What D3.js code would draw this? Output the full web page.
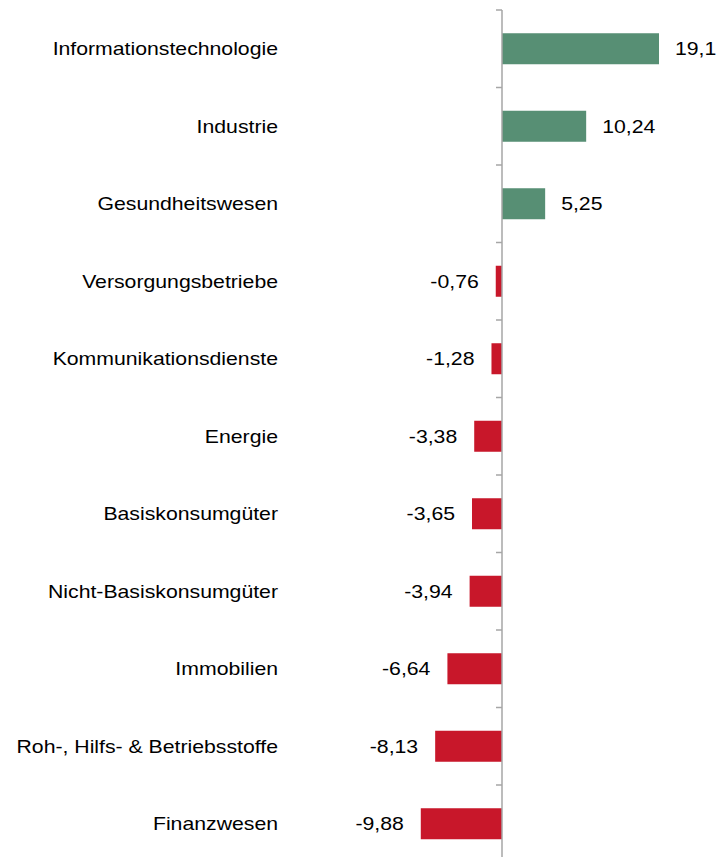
<!DOCTYPE html>
<html>
<head>
<meta charset="utf-8">
<script src="https://cdn.jsdelivr.net/npm/d3@7"></script>
<style>
  html, body { margin: 0; padding: 0; background: #fff; }
  svg text { font-family: "Liberation Sans", Arial, sans-serif; fill: #000; }
</style>
</head>
<body>
<svg id="chart" width="718" height="857"></svg>
<script>
// Sectors and their performance values (%)
const sectors = [
  "Informationstechnologie",
  "Industrie",
  "Gesundheitswesen",
  "Versorgungsbetriebe",
  "Kommunikationsdienste",
  "Energie",
  "Basiskonsumgüter",
  "Nicht-Basiskonsumgüter",
  "Immobilien",
  "Roh-, Hilfs- & Betriebsstoffe",
  "Finanzwesen"
];
const values = [19.1, 10.24, 5.25, -0.76, -1.28, -3.38, -3.65, -3.94, -6.64, -8.13, -9.88];
const valueLabels = ["19,1", "10,24", "5,25", "-0,76", "-1,28", "-3,38", "-3,65", "-3,94", "-6,64", "-8,13", "-9,88"];

const svg = d3.select("#chart");
const width = 718, height = 857;
const textStretch = 1.18; // wide text rendering

const zeroX = 502;
const pxPerUnit = 8.22;
const x = d3.scaleLinear()
  .domain([-10, 20])
  .range([zeroX - 10 * pxPerUnit, zeroX + 20 * pxPerUnit]);

const y = d3.scaleBand()
  .domain(sectors)
  .range([10, 10 + 11 * 77.5])
  .paddingInner(0.6)
  .paddingOuter(0.3);

const data = sectors.map((s, i) => ({ sector: s, value: values[i], label: valueLabels[i] }));

// Bars
svg.append("g")
  .selectAll("rect")
  .data(data)
  .join("rect")
  .attr("x", d => Math.min(x(0), x(d.value)))
  .attr("width", d => Math.abs(x(d.value) - x(0)))
  .attr("y", d => y(d.sector))
  .attr("height", y.bandwidth())
  .attr("fill", d => d.value >= 0 ? "#578f74" : "#c8172a");

// Category axis at zero, with ticks between categories
const axisG = svg.append("g");
axisG.append("line")
  .attr("x1", x(0)).attr("x2", x(0))
  .attr("y1", 10).attr("y2", height)
  .attr("stroke", "#a6a6a6").attr("stroke-width", 1.5);
const step = y.step();
const boundaries = d3.range(sectors.length + 1).map(i => 10 + i * step);
axisG.selectAll("line.tick")
  .data(boundaries)
  .join("line")
  .attr("class", "tick")
  .attr("x1", x(0) - 6).attr("x2", x(0))
  .attr("y1", d => d).attr("y2", d => d)
  .attr("stroke", "#a6a6a6").attr("stroke-width", 1.5);

// Category labels
svg.append("g")
  .selectAll("text")
  .data(data)
  .join("text")
  .attr("transform", d => `translate(278,${y(d.sector) + y.bandwidth() / 2}) scale(${textStretch},1)`)
  .attr("dy", "0.35em")
  .attr("text-anchor", "end")
  .attr("font-size", 18)
  .text(d => d.sector);

// Value labels
svg.append("g")
  .selectAll("text")
  .data(data)
  .join("text")
  .attr("transform", d => {
    const lx = d.value >= 0 ? x(d.value) + 16 : x(d.value) - 17;
    return `translate(${lx},${y(d.sector) + y.bandwidth() / 2}) scale(${textStretch},1)`;
  })
  .attr("dy", "0.35em")
  .attr("text-anchor", d => d.value >= 0 ? "start" : "end")
  .attr("font-size", 18)
  .text(d => d.label);
</script>
</body>
</html>
